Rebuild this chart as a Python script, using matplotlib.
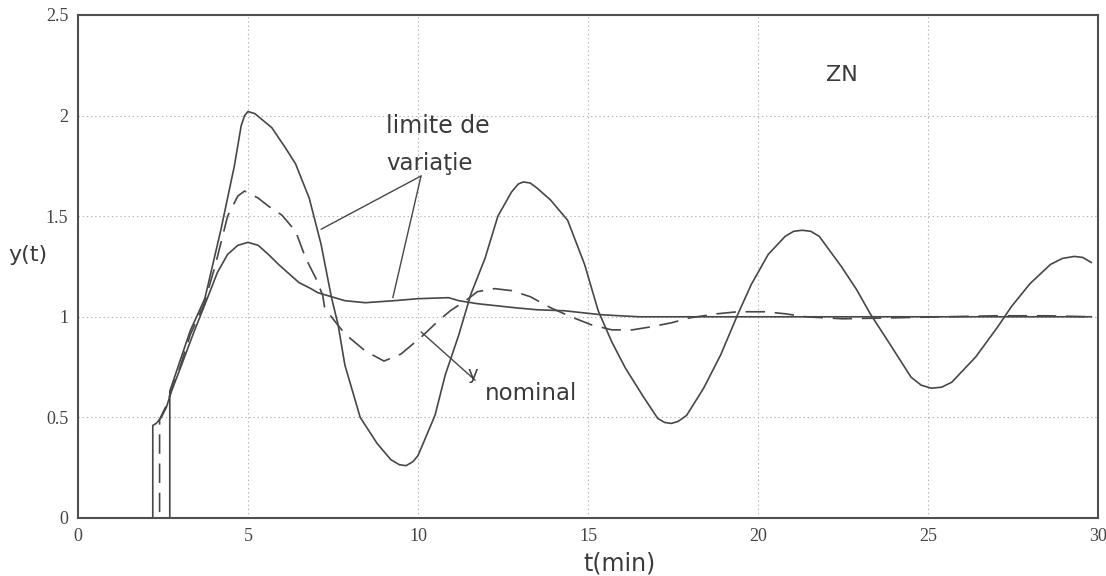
import matplotlib.pyplot as plt

plt.rcParams['lines.scale_dashes'] = False

# upper limit of the variation band (strong oscillation)
t_upper = [0, 2.7, 2.7, 2.8, 3.0, 3.3, 3.73, 4.2, 4.6, 4.8, 4.9, 5.0, 5.2, 5.7, 6.1,
           6.4, 6.8, 7.15, 7.45, 7.65, 7.85, 8.3, 8.8, 9.2, 9.45, 9.65, 9.85, 10.0,
           10.5, 10.8, 11.2, 11.55, 11.97, 12.35, 12.75, 12.95, 13.1, 13.3, 13.5,
           13.9, 14.4, 14.9, 15.3, 15.7, 16.1, 16.6, 17.05, 17.25, 17.45, 17.65,
           17.9, 18.4, 18.9, 19.4, 19.8, 20.3, 20.8, 21.05, 21.3, 21.55, 21.8,
           22.45, 22.9, 23.3, 23.8, 24.5, 24.8, 25.1, 25.4, 25.7, 26.4, 27.05,
           27.45, 28.0, 28.6, 28.95, 29.3, 29.55, 29.8]
y_upper = [0, 0, 0.63, 0.68, 0.78, 0.93, 1.09, 1.43, 1.75, 1.95, 2.0, 2.02, 2.01,
           1.94, 1.84, 1.76, 1.59, 1.36, 1.10, 0.96, 0.76, 0.50, 0.37, 0.29, 0.265,
           0.26, 0.28, 0.31, 0.51, 0.71, 0.91, 1.11, 1.29, 1.50, 1.62, 1.66, 1.67,
           1.665, 1.64, 1.58, 1.48, 1.26, 1.03, 0.875, 0.745, 0.61, 0.495, 0.475,
           0.47, 0.48, 0.51, 0.645, 0.81, 1.01, 1.16, 1.31, 1.40, 1.425, 1.43,
           1.425, 1.40, 1.25, 1.135, 1.015, 0.885, 0.70, 0.66, 0.645, 0.65, 0.675,
           0.80, 0.95, 1.05, 1.165, 1.26, 1.29, 1.30, 1.295, 1.27]

# lower limit of the variation band (small overshoot)
t_lower = [0, 2.2, 2.2, 2.3, 2.45, 2.6, 2.75, 3.0, 3.4, 3.8, 4.1, 4.4, 4.7, 5.0,
           5.3, 5.6, 5.9, 6.5, 6.85, 7.05, 7.55, 7.85, 8.45, 9.3, 10.0, 10.9, 11.2,
           11.75, 12.85, 13.5, 14.3, 15.4, 16.5, 18.0, 20.0, 22.0, 24.0, 26.0, 28.0,
           29.8]
y_lower = [0, 0, 0.46, 0.47, 0.50, 0.55, 0.63, 0.74, 0.92, 1.09, 1.22, 1.31, 1.355,
           1.37, 1.355, 1.31, 1.26, 1.17, 1.14, 1.12, 1.095, 1.08, 1.07, 1.08, 1.09,
           1.095, 1.08, 1.065, 1.045, 1.035, 1.03, 1.01, 1.0, 1.0, 1.0, 1.0, 1.0,
           1.0, 1.0, 1.0]

# nominal response
t_nom = [0, 2.4, 2.4, 2.6, 2.8, 3.0, 3.3, 3.7, 4.03, 4.4, 4.7, 4.9, 5.3, 5.6, 6.0,
         6.4, 6.7, 7.0, 7.2, 7.25, 7.45, 7.85, 8.45, 9.0, 9.5, 10.1, 10.6, 10.95,
         11.4, 11.75, 12.25, 12.75, 13.3, 13.9, 14.5, 15.1, 15.7, 16.3, 16.85,
         17.45, 18.0, 18.8, 19.4, 20.2, 20.8, 21.4, 22.5, 24.0, 25.5, 27.0, 28.5,
         29.8]
y_nom = [0, 0, 0.49, 0.56, 0.66, 0.75, 0.91, 1.06, 1.25, 1.50, 1.60, 1.625, 1.59,
         1.55, 1.505, 1.425, 1.29, 1.19, 1.105, 1.05, 1.0, 0.915, 0.83, 0.78, 0.815,
         0.90, 0.98, 1.03, 1.08, 1.125, 1.14, 1.13, 1.10, 1.045, 1.0, 0.96, 0.935,
         0.935, 0.95, 0.97, 0.995, 1.015, 1.025, 1.025, 1.015, 1.0, 0.99, 0.995, 1.0,
         1.005, 1.005, 1.0]

x_ticks = [0, 5, 10, 15, 20, 25, 30]
y_ticks = [0, 0.5, 1, 1.5, 2, 2.5]
y_tick_labels = ['0', '0.5', '1', '1.5', '2', '2.5']

ink = '#474747'
text_ink = '#3a3a3a'

fig = plt.figure(figsize=(11.06, 5.76), dpi=100)
ax = fig.add_axes([0.0705, 0.1007, 0.9223, 0.8733])

ax.plot(t_upper, y_upper, color=ink, lw=1.2)
ax.plot(t_lower, y_lower, color=ink, lw=1.2)
ax.plot(t_nom, y_nom, color=ink, lw=1.2, linestyle=(0, (14, 7)))

ax.set_xlim(0, 30)
ax.set_ylim(0, 2.5)
ax.set_xticks(x_ticks)
ax.set_yticks(y_ticks)
ax.set_yticklabels(y_tick_labels)
ax.tick_params(length=0, labelsize=13, colors='#444444', pad=7)
for lbl in ax.get_xticklabels() + ax.get_yticklabels():
    lbl.set_family('Liberation Serif')
ax.grid(True, linestyle=(0, (1, 2)), color='#b5b5b5', lw=0.8)
for sp in ax.spines.values():
    sp.set_color('#505050')
    sp.set_linewidth(1.5)

ax.set_xlabel('t(min)', fontsize=17, color=text_ink)
ax.xaxis.set_label_coords(0.531, -0.066)
ax.set_ylabel('y(t)', fontsize=16, color=text_ink, rotation=0, ha='center', va='center')
ax.yaxis.set_label_coords(-0.049, 0.523)

# band labels and leader lines
ax.text(9.06, 1.915, 'limite de', fontsize=17, color=text_ink, va='baseline')
ax.text(9.06, 1.73, 'variaţie', fontsize=16.5, color=text_ink, va='baseline')
leader = dict(arrowstyle='-', color=ink, lw=1.0, shrinkA=0, shrinkB=0)
ax.annotate('', xy=(7.15, 1.435), xytext=(10.09, 1.70), arrowprops=leader)
ax.annotate('', xy=(9.26, 1.095), xytext=(10.09, 1.70), arrowprops=leader)
ax.annotate('', xy=(10.09, 0.925), xytext=(11.68, 0.685), arrowprops=leader)
ax.text(11.47, 0.69, 'y', fontsize=13, color=text_ink, va='baseline')
ax.text(11.97, 0.585, 'nominal', fontsize=16.5, color=text_ink, va='baseline')

ax.text(22.0, 2.17, 'ZN', fontsize=16, color=text_ink, va='baseline')

fig.savefig('out.png', dpi=100)
